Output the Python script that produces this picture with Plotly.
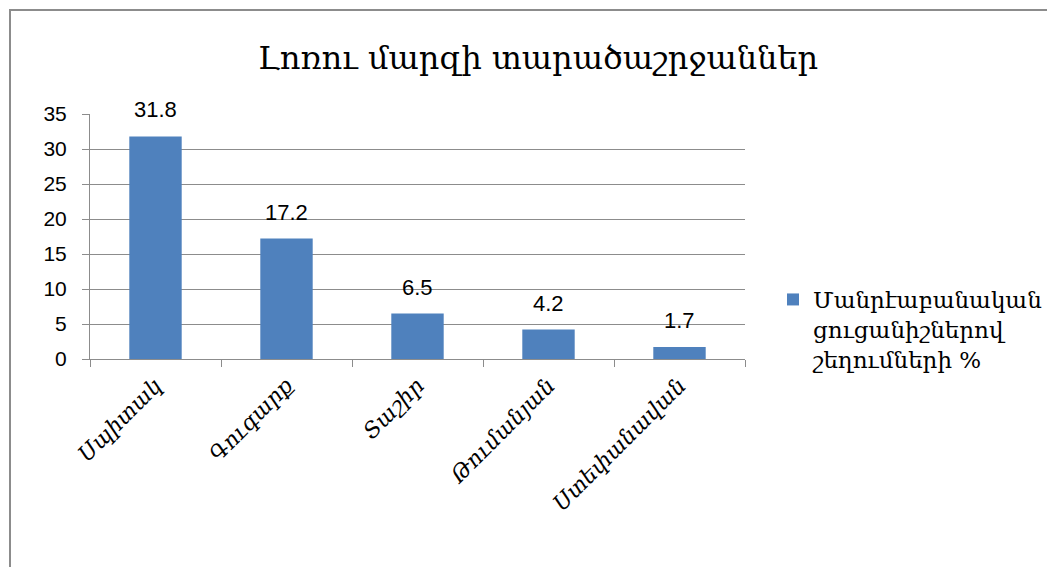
import plotly.graph_objects as go

title = "Լոռու մարզի տարածաշրջաններ"
categories = ["Սպիտակ", "Գուգարք", "Տաշիր", "Թումանյան", "Ստեփանավան"]
values = [31.8, 17.2, 6.5, 4.2, 1.7]
series_name = "Մանրէաբանական<br>ցուցանիշներով<br>շեղումների %"
y_ticks = [0, 5, 10, 15, 20, 25, 30, 35]

OFF = 8  # page body margin
W, H = 1055 - OFF, 567 - OFF
# plot area in screen pixels
SX0, SX1, SY0, SY1 = 90, 745, 114, 359
L, R, T, B = SX0 - OFF, W - (SX1 - OFF), SY0 - OFF, H - (SY1 - OFF)
pw, ph = W - L - R, H - T - B

def px_x(p):
    return (p - OFF - L) / pw

def px_y(p):
    return (SY1 - p) / ph

fig = go.Figure()
fig.add_trace(go.Bar(
    x=categories, y=values, name=series_name,
    marker=dict(color="#4F81BD", line=dict(width=0)),
    width=0.4, showlegend=True,
))

for c, v in zip(categories, values):
    fig.add_annotation(x=c, y=v, text=f"{v:g}", showarrow=False,
                       yanchor="bottom", yshift=12,
                       font=dict(family="Liberation Sans, Arial", size=22, color="#000"))

fig.add_shape(type="rect", xref="paper", yref="paper",
              x0=px_x(10), x1=px_x(1080), y0=px_y(600), y1=px_y(10),
              line=dict(color="#8c8c8c", width=2), fillcolor="rgba(0,0,0,0)", layer="below")

fig.update_layout(
    width=W, height=H,
    margin=dict(l=L, r=R, t=T, b=B, autoexpand=False),
    paper_bgcolor="white", plot_bgcolor="white",
    title=dict(text=title, xref="container", x=(538 - OFF) / W, xanchor="center",
               y=1 - (58 - OFF) / H, yanchor="middle",
               font=dict(family="DejaVu Serif", size=32, color="#000")),
    bargap=0.6,
    legend=dict(x=px_x(773), y=px_y(278), xanchor="left", yanchor="top",
                valign="top",
                font=dict(family="DejaVu Serif", size=23, color="#000"),
                bgcolor="rgba(0,0,0,0)", itemsizing="constant"),
    xaxis=dict(
        type="category", tickangle=-45, tickson="boundaries",
        ticks="outside", ticklen=7, tickcolor="#8c8c8c",
        showline=True, linecolor="#8c8c8c", linewidth=1,
        showgrid=False, ticklabelstandoff=4,
        tickfont=dict(family="DejaVu Serif", size=22, color="#000", style="italic"),
    ),
    yaxis=dict(
        range=[0, 35], tickvals=y_ticks, ticks="outside", ticklen=7, tickcolor="#8c8c8c",
        showline=True, linecolor="#8c8c8c", linewidth=1,
        showgrid=True, gridcolor="#8c8c8c", gridwidth=1, zeroline=False,
        ticklabelstandoff=11,
        tickfont=dict(family="Liberation Sans, Arial", size=21, color="#000"),
    ),
)

fig.write_html("out.html")
